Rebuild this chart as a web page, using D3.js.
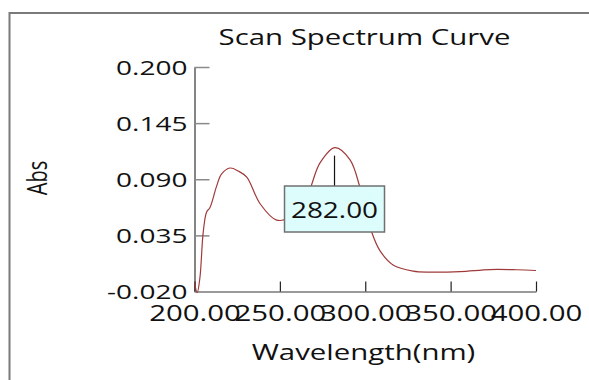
<!DOCTYPE html>
<html>
<head>
<meta charset="utf-8">
<script src="https://cdn.jsdelivr.net/npm/d3@7"></script>
<style>
  html, body { margin: 0; padding: 0; background: #fff; }
  text { font-family: "Open Sans", sans-serif; fill: #111; }
</style>
</head>
<body>
<div class="result"></div>
<script>
const w = 589;
const h = 380;

// Scan data
const wavelengths = [200.0, 201.6, 203.2, 205.1, 207.1, 209.0, 212.9, 215.8, 220.8, 225.7,
  230.6, 238.4, 248.1, 255.9, 265.7, 273.5, 282.3, 291.1, 296.9, 303.8,
  308.6, 316.3, 328.0, 337.9, 355.5, 373.1, 388.7, 400.0];
const absorbance = [-0.011, -0.021, -0.006, 0.038, 0.058, 0.062, 0.083, 0.095, 0.101, 0.098,
  0.092, 0.066, 0.050, 0.053, 0.073, 0.106, 0.121, 0.109, 0.082, 0.038,
  0.020, 0.006, 0.000, -0.001, -0.0005, 0.0015, 0.0013, 0.0006];
const xTicks = [200, 250, 300, 350, 400];
const yTicks = [-0.020, 0.035, 0.090, 0.145, 0.200];
const peakWavelength = 282;
const peakLabel = '282.00';

// the picture is stretched sideways, so the text is too
const sx = 1.4;

const svg = d3.select('.result')
  .append('svg')
  .attr('width', w)
  .attr('height', h);

// frame
svg.append('path')
  .attr('d', 'M9.5,' + h + 'V13H' + w)
  .attr('fill', 'none')
  .attr('stroke', '#7a7a7a')
  .attr('stroke-width', 2);

const x = d3.scaleLinear().domain([200, 400]).range([194.5, 536]);
const y = d3.scaleLinear().domain([-0.02, 0.2]).range([291.5, 67]);

// title
svg.append('text')
  .attr('transform', 'translate(364.5,45) scale(' + sx + ',1)')
  .attr('text-anchor', 'middle')
  .style('font-size', '21px')
  .text('Scan Spectrum Curve');

// y axis
const yAxis = svg.append('g')
  .attr('transform', 'translate(' + x(200) + ',0)')
  .call(d3.axisLeft(y).tickValues(yTicks).tickSize(-15).tickSizeOuter(0)
    .tickFormat(d => d.toFixed(3)));
yAxis.select('.domain').attr('stroke', '#333').attr('stroke-width', 1.2);
yAxis.selectAll('.tick line').attr('stroke', '#8a8a8a').attr('stroke-width', 1.5);
yAxis.selectAll('.tick text')
  .attr('x', -7 / sx)
  .attr('dy', '0.36em')
  .attr('transform', 'scale(' + sx + ',1)')
  .attr('fill', '#111')
  .style('font-size', '20px')
  .style('font-family', '"Open Sans", sans-serif');

// x axis
const xAxis = svg.append('g')
  .attr('transform', 'translate(0,' + y(-0.02) + ')')
  .call(d3.axisBottom(x).tickValues(xTicks).tickSize(-10).tickSizeOuter(0)
    .tickFormat(d => d.toFixed(2)));
xAxis.select('.domain').attr('stroke', '#9a9a9a').attr('stroke-width', 2);
xAxis.selectAll('.tick line').attr('stroke', '#222').attr('stroke-width', 1.2);
xAxis.selectAll('.tick text')
  .attr('y', 29.5)
  .attr('dy', 0)
  .attr('transform', 'scale(' + sx + ',1)')
  .attr('fill', '#111')
  .style('font-size', '21px')
  .style('font-family', '"Open Sans", sans-serif');

// axis titles
svg.append('text')
  .attr('transform', 'translate(363.5,360) scale(' + sx + ',1)')
  .attr('text-anchor', 'middle')
  .style('font-size', '21px')
  .text('Wavelength(nm)');

svg.append('text')
  .attr('transform', 'translate(47,178) scale(' + sx + ',1) rotate(-90)')
  .attr('text-anchor', 'middle')
  .style('font-size', '20px')
  .text('Abs');

// spectrum curve
const line = d3.line()
  .x((d, i) => x(wavelengths[i]))
  .y(d => y(d))
  .curve(d3.curveCatmullRom.alpha(0.5));

svg.append('path')
  .datum(absorbance)
  .attr('fill', 'none')
  .attr('stroke', '#a03a3a')
  .attr('stroke-width', 1.2)
  .attr('d', line);

// peak marker
const peakIdx = d3.maxIndex(absorbance);
const px = x(peakWavelength);
const boxW = 100;
const boxH = 46;
const boxTop = 186;

svg.append('line')
  .attr('x1', px).attr('x2', px)
  .attr('y1', y(absorbance[peakIdx]) + 8)
  .attr('y2', boxTop)
  .attr('stroke', '#111')
  .attr('stroke-width', 1.2);

svg.append('rect')
  .attr('x', px - boxW / 2)
  .attr('y', boxTop)
  .attr('width', boxW)
  .attr('height', boxH)
  .attr('fill', '#ddfcfc')
  .attr('stroke', '#707070')
  .attr('stroke-width', 1.5);

svg.append('text')
  .attr('transform', 'translate(' + px + ',' + (boxTop + 32) + ') scale(1.33,1)')
  .attr('text-anchor', 'middle')
  .style('font-size', '21px')
  .text(peakLabel);
</script>
</body>
</html>
